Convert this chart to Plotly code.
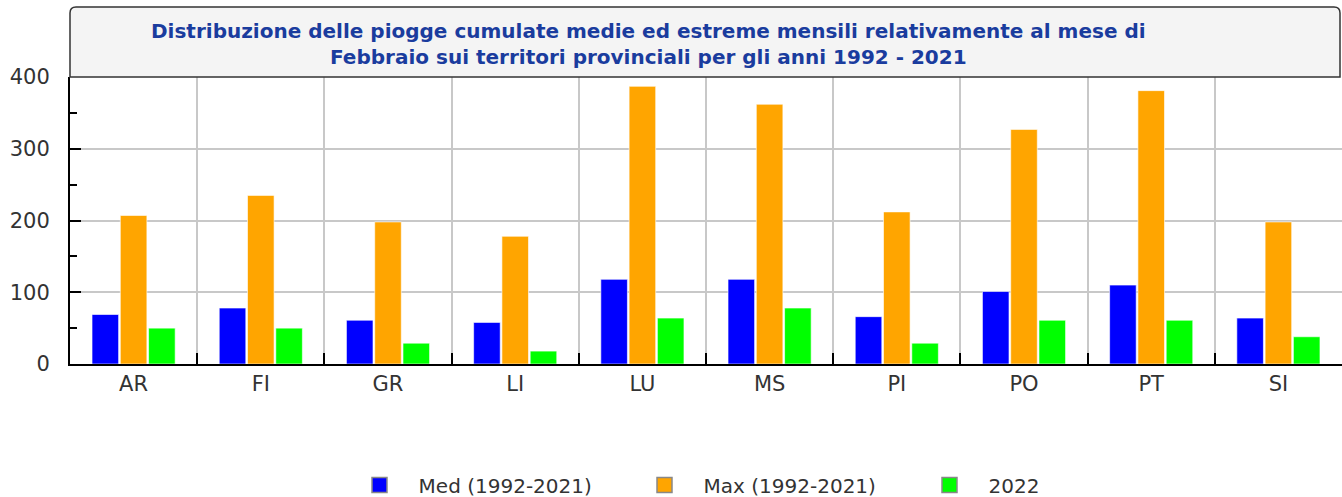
import plotly.graph_objects as go

categories = ["AR", "FI", "GR", "LI", "LU", "MS", "PI", "PO", "PT", "SI"]
med_1992_2021 = [69, 78, 61, 58, 118, 118, 66, 101, 110, 64]
max_1992_2021 = [207, 235, 198, 178, 387, 362, 212, 327, 381, 198]
y2022 = [50, 50, 29, 18, 64, 78, 29, 61, 61, 38]

series_names = ["Med (1992-2021)", "Max (1992-2021)", "2022"]
series_colors = ["#0000ff", "#ffa500", "#00ff00"]
series_values = [med_1992_2021, max_1992_2021, y2022]

title_text = ("Distribuzione delle piogge cumulate medie ed estreme mensili relativamente al mese di<br>"
              "Febbraio sui territori provinciali per gli anni 1992 - 2021")

W, H = 1342, 497
ML, MR, MT, MB = 70, 0, 77, 133
PW, PH = W - ML - MR, H - MT - MB

fig = go.Figure()
for name, color, vals in zip(series_names, series_colors, series_values):
    fig.add_trace(go.Bar(
        x=categories, y=vals, name=name, showlegend=False,
        marker=dict(color=color, line=dict(color="rgba(255,255,255,0.6)", width=1)),
    ))
    fig.add_trace(go.Scatter(
        x=[None], y=[None], mode="markers", name="\u00a0\u00a0\u00a0" + name,
        marker=dict(symbol="square", size=15, color=color,
                    line=dict(color="#888888", width=1.5)),
    ))

def px_x(px):
    return (px - ML) / PW

def px_y(py):
    return (H - MB - py) / PH

# title box with rounded top corners
x0, x1 = 70, 1340
y0, y1 = 7, 77
r = 6
path = (f"M {px_x(x0)},{px_y(y1)} L {px_x(x0)},{px_y(y0 + r)} "
        f"Q {px_x(x0)},{px_y(y0)} {px_x(x0 + r)},{px_y(y0)} "
        f"L {px_x(x1 - r)},{px_y(y0)} "
        f"Q {px_x(x1)},{px_y(y0)} {px_x(x1)},{px_y(y0 + r)} "
        f"L {px_x(x1)},{px_y(y1)} Z")
fig.add_shape(type="path", path=path, xref="paper", yref="paper",
              fillcolor="#f4f4f4", line=dict(color="#333333", width=1.5), layer="above")

fig.add_annotation(text=title_text, xref="paper", yref="paper",
                   x=px_x(648), y=px_y(44), xanchor="center", yanchor="middle",
                   showarrow=False, align="center",
                   font=dict(family="DejaVu Sans", size=20, color="#1a3c9e", weight="bold"))

fig.update_layout(
    width=W, height=H,
    margin=dict(l=ML, r=MR, t=MT, b=MB, pad=0, autoexpand=False),
    paper_bgcolor="white", plot_bgcolor="white",
    barmode="group", bargap=0.333, bargroupgap=0.06,
    font=dict(family="DejaVu Sans", color="#333333"),
    legend=dict(orientation="h", xref="container", yref="container",
                x=787 / W, xanchor="center",
                y=1 - 485 / H, yanchor="middle",
                font=dict(size=20, color="#333333"), entrywidth=240, itemwidth=30),
)
fig.update_xaxes(
    type="category", tickson="boundaries", ticks="inside", ticklen=11,
    tickcolor="black", tickwidth=2, automargin=False,
    showgrid=True, gridcolor="#c8c8c8", gridwidth=1.5,
    showline=True, linecolor="black", linewidth=2,
    tickfont=dict(size=21, color="#333333"),
)
fig.update_yaxes(
    range=[0, 400], dtick=100, ticks="inside", ticklen=11, tickcolor="black", tickwidth=2,
    showgrid=True, gridcolor="#c8c8c8", gridwidth=1.5, zeroline=False, automargin=False,
    showline=True, linecolor="black", linewidth=2, ticklabelstandoff=14,
    tickfont=dict(size=21, color="#333333"),
    minor=dict(dtick=50, ticks="inside", ticklen=7, tickcolor="black", tickwidth=2, showgrid=False),
)

fig.write_html("out.html", config={"displayModeBar": False},
               post_script="document.body.style.margin='0px';document.body.style.overflow='hidden';")
